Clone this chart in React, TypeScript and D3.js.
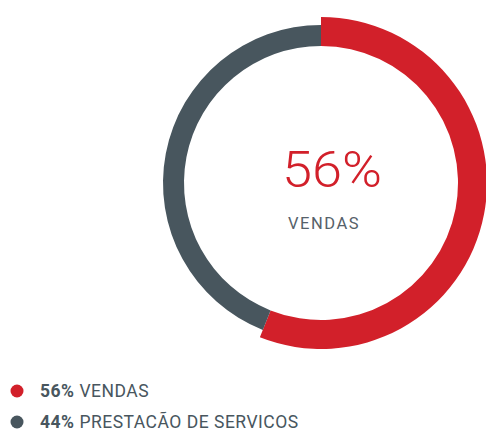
import React from "react";
import * as d3 from "d3";

const categories = ["VENDAS", "PRESTACÃO DE SERVICOS"];
const values = [56, 44];
const colors = ["#d2202a", "#48565e"];

export default function App() {
  const W = 486, H = 430;
  const cx = 321, cy = 183;
  const pie = d3.pie<number>().sort(null).value((d) => d)(values);
  const arcRed = d3.arc<d3.PieArcDatum<number>>().innerRadius(137).outerRadius(166);
  const arcGray = d3.arc<d3.PieArcDatum<number>>().innerRadius(137).outerRadius(158);
  const arcs = [arcRed, arcGray];
  const font = "Roboto, 'DejaVu Sans', sans-serif";
  return (
    <svg width={W} height={H} style={{ position: "absolute", left: 0, top: 0 }}>
      <g transform={`translate(${cx},${cy})`}>
        {pie.map((p, i) => (
          <path key={i} d={arcs[i](p) || ""} fill={colors[i]} />
        ))}
        <text x={-39} y={4} textAnchor="start" fontFamily={font} fontWeight={300} fontSize={50} textLength={100} lengthAdjust="spacingAndGlyphs" fill={colors[0]}>
          {values[0]}%
        </text>
        <text x={3} y={46} textAnchor="middle" fontFamily={font} fontWeight={400} fontSize={16.5} letterSpacing={1.5} fill="#56616a">
          {categories[0]}
        </text>
      </g>
      {categories.map((c, i) => (
        <g key={c} transform={`translate(0,${391 + i * 31})`}>
          <circle cx={17} cy={0} r={6.5} fill={colors[i]} />
          <text x={40} y={6} fontFamily={font} fontSize={17.5} letterSpacing={0.5} fill="#48565e">
            <tspan fontWeight={700}>{values[i]}%</tspan>
            <tspan fontWeight={400}> {c}</tspan>
          </text>
        </g>
      ))}
    </svg>
  );
}
